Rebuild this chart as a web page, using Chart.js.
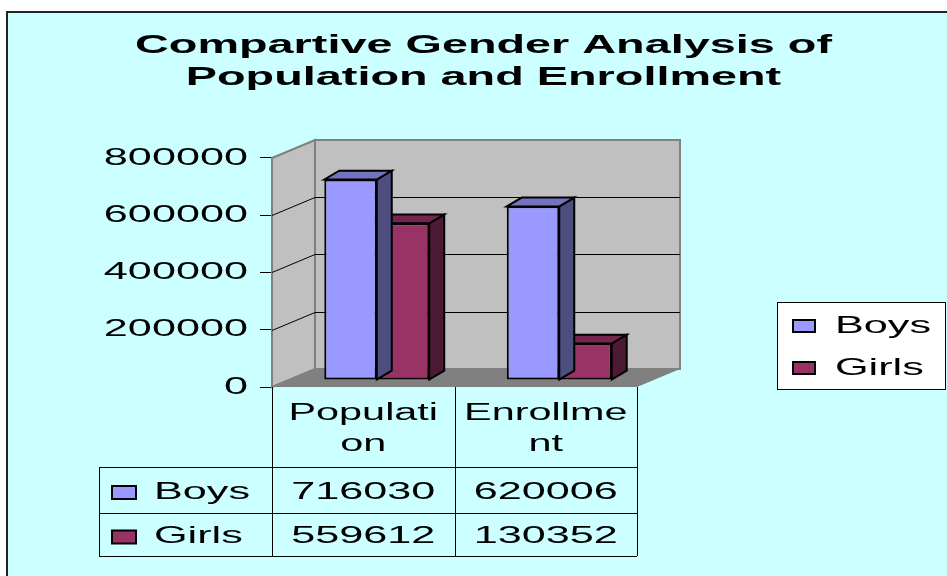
<!DOCTYPE html>
<html>
<head>
<meta charset="utf-8">
<script src="https://cdn.jsdelivr.net/npm/chart.js@4"></script>
<style>
  body { margin: 0; background: #fff; }
  #wrap { width: 947px; height: 576px; }
</style>
</head>
<body>
<div id="wrap"><canvas id="myChart"></canvas></div>
<script>
const categories = ['Population', 'Enrollment']
const headerLines = [['Populati', 'on'], ['Enrollme', 'nt']]
const seriesNames = ['Boys', 'Girls']
const boys = [716030, 620006]
const girls = [559612, 130352]
const yMax = 800000
const yStep = 200000

const FONT = '"Liberation Sans", Arial, sans-serif'
const SX = 1.8 // the old excel picture has its text stretched wide

// colours: front, top, side
const faces = [
  ['#9999FF', '#7373BF', '#4D4D80'],
  ['#993366', '#73264D', '#4D1A33']
]

// wall depth, where the bars stand in it, bar depth
const DX = 43, DY = -18
const BX = 13.5, BY = -7, BK = 0.978
const bdx = 15, bdy = -9

function stretchText(ctx) {
  const fill = ctx.fillText.bind(ctx)
  const measure = ctx.measureText.bind(ctx)
  ctx.fillText = function (text, x, y) {
    ctx.save()
    ctx.translate(x, y)
    ctx.scale(SX, 1)
    fill(text, 0, 0)
    ctx.restore()
  }
  ctx.measureText = function (text) {
    const m = measure(text)
    return {
      width: m.width * SX,
      actualBoundingBoxAscent: m.actualBoundingBoxAscent,
      actualBoundingBoxDescent: m.actualBoundingBoxDescent
    }
  }
}

function poly(ctx, pts, fill, stroke, lw) {
  ctx.beginPath()
  ctx.moveTo(pts[0][0], pts[0][1])
  for (let i = 1; i < pts.length; i++) ctx.lineTo(pts[i][0], pts[i][1])
  ctx.closePath()
  if (fill) { ctx.fillStyle = fill; ctx.fill() }
  if (stroke) { ctx.strokeStyle = stroke; ctx.lineWidth = lw || 1; ctx.stroke() }
}

const excel3d = {
  id: 'excel3d',
  beforeInit(chart) {
    stretchText(chart.ctx)
  },
  beforeDraw(chart) {
    const ctx = chart.ctx
    ctx.save()
    ctx.fillStyle = '#fff'
    ctx.fillRect(0, 0, chart.width, chart.height)
    ctx.fillStyle = '#CCFFFF'
    ctx.fillRect(8, 13, chart.width, chart.height)
    ctx.strokeStyle = '#222'
    ctx.lineWidth = 2
    ctx.beginPath()
    ctx.moveTo(7, chart.height)
    ctx.lineTo(7, 12)
    ctx.lineTo(chart.width, 12)
    ctx.stroke()
    ctx.restore()
  },
  beforeDatasetsDraw(chart) {
    const ctx = chart.ctx
    const a = chart.chartArea
    const y = chart.scales.y
    const L = a.left, R = a.right, T = a.top, B = a.bottom
    ctx.save()
    // left wall, back wall, floor
    poly(ctx, [[L, B], [L, T], [L + DX, T + DY], [L + DX, B + DY]], '#C0C0C0', '#808080', 2)
    poly(ctx, [[L + DX, T + DY], [R + DX, T + DY], [R + DX, B + DY], [L + DX, B + DY]], '#C0C0C0', '#808080', 2)
    poly(ctx, [[L, B], [R, B], [R + DX, B + DY], [L + DX, B + DY]], '#808080', null)
    // gridlines
    ctx.strokeStyle = '#000'
    ctx.lineWidth = 1
    y.ticks.forEach(t => {
      if (t.value <= 0 || t.value >= yMax) return
      const py = Math.round(y.getPixelForValue(t.value)) + 0.5
      ctx.beginPath()
      ctx.moveTo(L, py)
      ctx.lineTo(L + DX, py + DY)
      ctx.lineTo(R + DX, py + DY)
      ctx.stroke()
    })
    ctx.restore()
    // the bars stand a bit into the depth
    ctx.save()
    ctx.translate(BX, BY + B)
    ctx.scale(1, BK)
    ctx.translate(0, -B)
  },
  afterDatasetDraw(chart, args) {
    const ctx = chart.ctx
    const c = faces[args.index]
    args.meta.data.forEach(bar => {
      const l = bar.x - bar.width / 2, r = bar.x + bar.width / 2
      const t = bar.y, b = bar.base
      poly(ctx, [[r, t], [r + bdx, t + bdy], [r + bdx, b + bdy], [r, b]], c[2], '#000', 2)
      poly(ctx, [[l, t], [l + bdx, t + bdy], [r + bdx, t + bdy], [r, t]], c[1], '#000', 2)
    })
  },
  afterDatasetsDraw(chart) {
    chart.ctx.restore()
  },
  afterDraw(chart) {
    const ctx = chart.ctx
    const x = chart.scales.x
    const a = chart.chartArea
    const colL = a.left, colR = a.right
    const colM = (x.getPixelForValue(0) + x.getPixelForValue(1)) / 2
    const rowTop = x.bottom
    const rows = [rowTop, rowTop + 46, rowTop + 89]
    const tableLeft = 99
    ctx.save()
    ctx.strokeStyle = '#000'
    ctx.lineWidth = 1
    ctx.beginPath()
    ;[colL, colM, colR].forEach(cx => {
      ctx.moveTo(Math.round(cx) + 0.5, a.bottom)
      ctx.lineTo(Math.round(cx) + 0.5, rows[2])
    })
    ctx.moveTo(tableLeft + 0.5, rowTop)
    ctx.lineTo(tableLeft + 0.5, rows[2])
    rows.forEach(ry => {
      ctx.moveTo(tableLeft, ry + 0.5)
      ctx.lineTo(colR, ry + 0.5)
    })
    ctx.stroke()

    ctx.font = '24px ' + FONT
    ctx.textBaseline = 'middle'
    chart.data.datasets.forEach((ds, i) => {
      const cy = (rows[i] + rows[i + 1]) / 2 + 2
      ctx.fillStyle = ds.backgroundColor
      ctx.fillRect(112, cy - 6, 24, 13)
      ctx.strokeStyle = '#000'
      ctx.lineWidth = 2
      ctx.strokeRect(112, cy - 6, 24, 13)
      ctx.fillStyle = '#000'
      ctx.textAlign = 'left'
      ctx.fillText(ds.label, 154, cy)
      ctx.textAlign = 'center'
      ds.data.forEach((v, j) => {
        ctx.fillText(String(v), x.getPixelForValue(j), cy)
      })
    })

    // legend box on the right
    const lx = 777, ly = 302, lw = 168, lh = 87
    ctx.fillStyle = '#fff'
    ctx.fillRect(lx, ly, lw, lh)
    ctx.strokeStyle = '#000'
    ctx.lineWidth = 1
    ctx.strokeRect(lx + 0.5, ly + 0.5, lw, lh)
    chart.data.datasets.forEach((ds, i) => {
      const cy = ly + 24 + i * 42
      ctx.fillStyle = ds.backgroundColor
      ctx.fillRect(793, cy - 6, 22, 12)
      ctx.lineWidth = 2
      ctx.strokeRect(793, cy - 6, 22, 12)
      ctx.fillStyle = '#000'
      ctx.textAlign = 'left'
      ctx.fillText(ds.label, 835, cy)
    })
    ctx.restore()
  }
}

const ctx = document.getElementById('myChart')

const data = {
  labels: categories,
  datasets: [
    { label: seriesNames[0], data: boys, backgroundColor: faces[0][0] },
    { label: seriesNames[1], data: girls, backgroundColor: faces[1][0] }
  ]
}

const config = {
  type: 'bar',
  data: data,
  options: {
    responsive: true,
    maintainAspectRatio: false,
    animation: false,
    layout: { padding: { top: 0, left: 20, right: 0, bottom: 109 } },
    datasets: {
      bar: {
        barPercentage: 1,
        categoryPercentage: 0.575,
        borderColor: '#000',
        borderWidth: 2,
        borderSkipped: false,
        clip: false
      }
    },
    plugins: {
      legend: { display: false },
      tooltip: { enabled: false },
      title: {
        display: true,
        text: ['Compartive Gender Analysis of', 'Population and Enrollment'],
        color: '#000',
        font: { family: FONT, size: 26, weight: 'bold', lineHeight: 1.23 },
        padding: { top: 30, bottom: 64 }
      }
    },
    scales: {
      x: {
        grid: { display: false },
        border: { display: false },
        ticks: {
          color: '#000',
          font: { family: FONT, size: 23, lineHeight: 1.35 },
          padding: 3,
          maxRotation: 0,
          autoSkip: false,
          callback: (v, i) => headerLines[i]
        },
        afterFit: s => { s.height = 80 }
      },
      y: {
        min: 0,
        max: yMax,
        grid: { drawOnChartArea: false, drawTicks: true, tickLength: 12, color: '#000' },
        border: { display: false },
        ticks: {
          stepSize: yStep,
          color: '#000',
          font: { family: FONT, size: 24 },
          padding: 12,
          callback: v => String(v)
        },
        afterFit: s => { s.width = 252 }
      },
      // empty space on the right where the legend sits
      side: {
        position: 'right',
        grid: { display: false },
        border: { display: false },
        ticks: { display: false },
        afterFit: s => { s.width = 310 }
      }
    }
  },
  plugins: [excel3d]
}

const myChart = new Chart(ctx, config)
</script>
</body>
</html>
